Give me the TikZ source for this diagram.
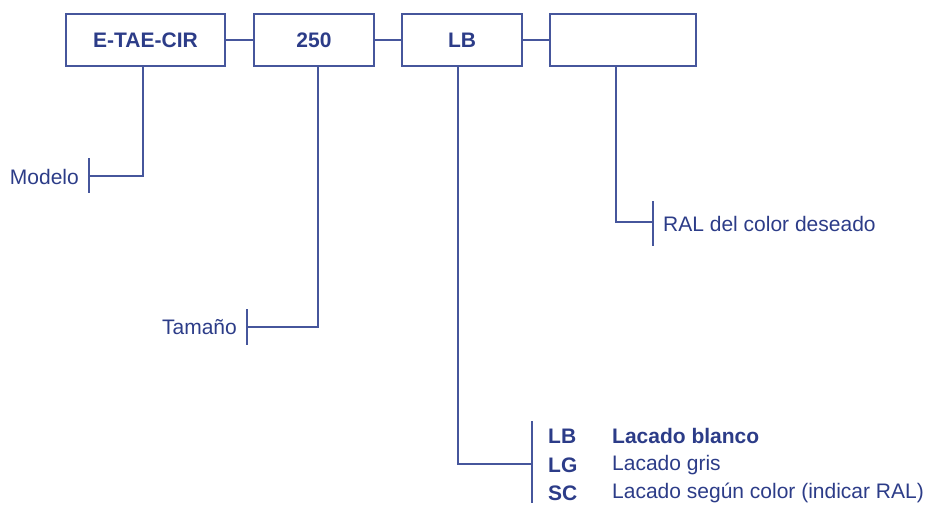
\documentclass[tikz,border=0pt]{standalone}
\usepackage{fontspec}
\setmainfont{Liberation Sans}
\definecolor{navy}{RGB}{44,60,136}
\definecolor{lineblue}{RGB}{70,86,156}
\begin{document}
\begin{tikzpicture}[x=1pt,y=-1pt,
  box/.style={draw=lineblue,line width=1.3pt,minimum height=52pt,inner sep=0pt,font=\fontsize{21}{24}\selectfont\bfseries,text=navy},
  lbl/.style={inner sep=0pt,font=\fontsize{21}{24}\selectfont,text=navy},
  blbl/.style={lbl,font=\fontsize{21}{24}\selectfont\bfseries},
  conn/.style={draw=lineblue,line width=1.3pt}]
\useasboundingbox (0,0) rectangle (929,504);
\node[box,minimum width=159pt] (b1) at (145.5,40) {E-TAE-CIR};
\node[box,minimum width=120pt] (b2) at (314,40) {250};
\node[box,minimum width=120pt] (b3) at (462,40) {LB};
\node[box,minimum width=146pt] (b4) at (623,40) {};
\draw[conn] (b1.east) -- (b2.west);
\draw[conn] (b2.east) -- (b3.west);
\draw[conn] (b3.east) -- (b4.west);
% Modelo
\coordinate (m1) at (143,66);
\coordinate (m2) at (143,176);
\coordinate (m3) at (89,176);
\coordinate (mt1) at (89,158);
\coordinate (mt2) at (89,193);
\draw[conn] (m1) -- (m2) -- (m3);
\draw[conn] (mt1) -- (mt2);
\node[lbl,anchor=base east] (tm) at (79,184) {Modelo};
% Tamano
\coordinate (t1) at (318,66);
\coordinate (t2) at (318,327);
\coordinate (t3) at (247,327);
\coordinate (tt1) at (247,309);
\coordinate (tt2) at (247,345);
\draw[conn] (t1) -- (t2) -- (t3);
\draw[conn] (tt1) -- (tt2);
\node[lbl,anchor=base east] (tt) at (237,334) {Tamaño};
% RAL
\coordinate (r1) at (616,66);
\coordinate (r2) at (616,222);
\coordinate (r3) at (653,222);
\coordinate (rt1) at (653,201);
\coordinate (rt2) at (653,246);
\draw[conn] (r1) -- (r2) -- (r3);
\draw[conn] (rt1) -- (rt2);
\node[lbl,anchor=base west] (tr) at (663,231) {RAL del color deseado};
% Lacado list
\coordinate (l1) at (458,66);
\coordinate (l2) at (458,464);
\coordinate (l3) at (532,464);
\coordinate (lt1) at (532,421);
\coordinate (lt2) at (532,503);
\draw[conn] (l1) -- (l2) -- (l3);
\draw[conn] (lt1) -- (lt2);
\node[blbl,anchor=base west] (c1) at (548,443) {LB};
\node[blbl,anchor=base west] (c2) at (548,472) {LG};
\node[blbl,anchor=base west] (c3) at (548,500) {SC};
\node[blbl,anchor=base west] (d1) at (612,443) {Lacado blanco};
\node[lbl,anchor=base west] (d2) at (612,470) {Lacado gris};
\node[lbl,anchor=base west] (d3) at (612,498) {Lacado según color (indicar RAL)};
\end{tikzpicture}
\end{document}
